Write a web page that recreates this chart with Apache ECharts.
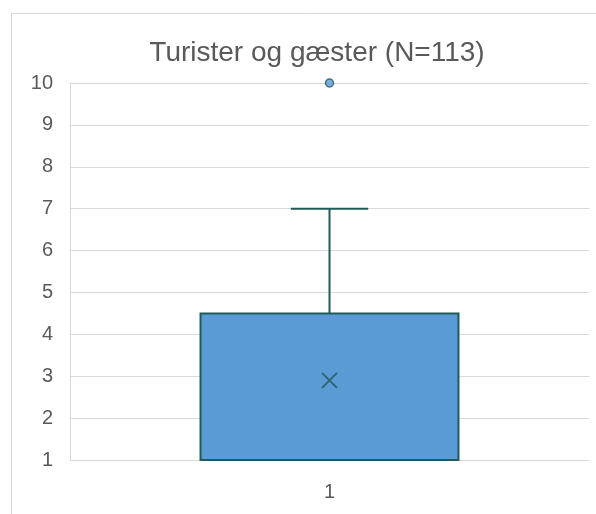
<!DOCTYPE html>
<html><head><meta charset="utf-8">
<script src="https://cdn.jsdelivr.net/npm/echarts@6/dist/echarts.min.js"></script>
<style>html,body{margin:0;padding:0;background:#fff}#c{width:596px;height:514px}</style>
</head><body><div id="c"></div>
<script>
var categories = ['1'];
var whiskerLow = [1];
var q1 = [1];
var median = [1];
var q3 = [4.5];
var whiskerHigh = [7];
var means = [2.9];
var outliers = [[0, 10]];
var yTicks = [1,2,3,4,5,6,7,8,9,10];

var boxData = categories.map(function(c,i){return [i, whiskerLow[i], q1[i], median[i], q3[i], whiskerHigh[i]];});
var chart = echarts.init(document.getElementById('c'));
var dark = '#1f5b57';
chart.setOption({
  animation:false,
  title:{text:'Turister og gæster (N=113)', left:312, top:34, textAlign:'center',
    textStyle:{fontFamily:'Liberation Sans, Arial', fontSize:28, fontWeight:'normal', color:'#595959'}},
  graphic:[{type:'rect', shape:{x:11.5,y:13.5,width:600,height:520}, style:{fill:'none',stroke:'#d9d9d9',lineWidth:1}, z:-1}],
  grid:{left:70, right:7, top:83, bottom:54},
  xAxis:{type:'category', data:categories, axisTick:{show:false},
    axisLine:{lineStyle:{color:'#d9d9d9', width:1}},
    axisLabel:{fontFamily:'Liberation Sans, Arial', fontSize:20, color:'#595959', margin:22}},
  yAxis:{type:'value', min:1, max:10, interval:1,
    axisLine:{show:true, lineStyle:{color:'#d9d9d9'}},
    splitLine:{lineStyle:{color:'#d9d9d9', width:1}},
    axisLabel:{fontFamily:'Liberation Sans, Arial', fontSize:20, color:'#595959', margin:17,
      formatter:function(v){return yTicks.indexOf(v)>=0?String(v):'';}}},
  series:[
    {type:'custom', data:boxData, z:3,
     renderItem:function(params, api){
       var x = api.value(0);
       var lo = api.coord([x, api.value(1)]);
       var b1 = api.coord([x, api.value(2)]);
       var med = api.coord([x, api.value(3)]);
       var b3 = api.coord([x, api.value(4)]);
       var hi = api.coord([x, api.value(5)]);
       var bw = api.size([1,0])[0]*0.497;
       var cw = bw*0.3;
       var cx = b1[0];
       return {type:'group', children:[
         {type:'line', shape:{x1:cx,y1:b3[1],x2:cx,y2:hi[1]}, style:{stroke:dark,lineWidth:2}},
         {type:'line', shape:{x1:cx-cw/2,y1:hi[1],x2:cx+cw/2,y2:hi[1]}, style:{stroke:dark,lineWidth:2}},
         {type:'line', shape:{x1:cx,y1:b1[1],x2:cx,y2:lo[1]}, style:{stroke:dark,lineWidth:2}},
         {type:'rect', shape:{x:cx-bw/2,y:b3[1],width:bw,height:b1[1]-b3[1]}, style:{fill:'#5b9bd5',stroke:dark,lineWidth:2}},
         {type:'line', shape:{x1:cx-bw/2,y1:med[1],x2:cx+bw/2,y2:med[1]}, style:{stroke:dark,lineWidth:2}}
       ]};
     }},
    {type:'scatter', data:categories.map(function(c,i){return [i, means[i]];}), z:4,
     symbol:'path://M0,0L10,10M10,0L0,10', symbolSize:15,
     itemStyle:{color:'none', borderColor:dark, borderWidth:2}},
    {type:'scatter', data:outliers, z:5, symbol:'circle', symbolSize:8,
     itemStyle:{color:'#5b9bd5', borderColor:dark, borderWidth:1.5}}
  ]
});
</script></body></html>
